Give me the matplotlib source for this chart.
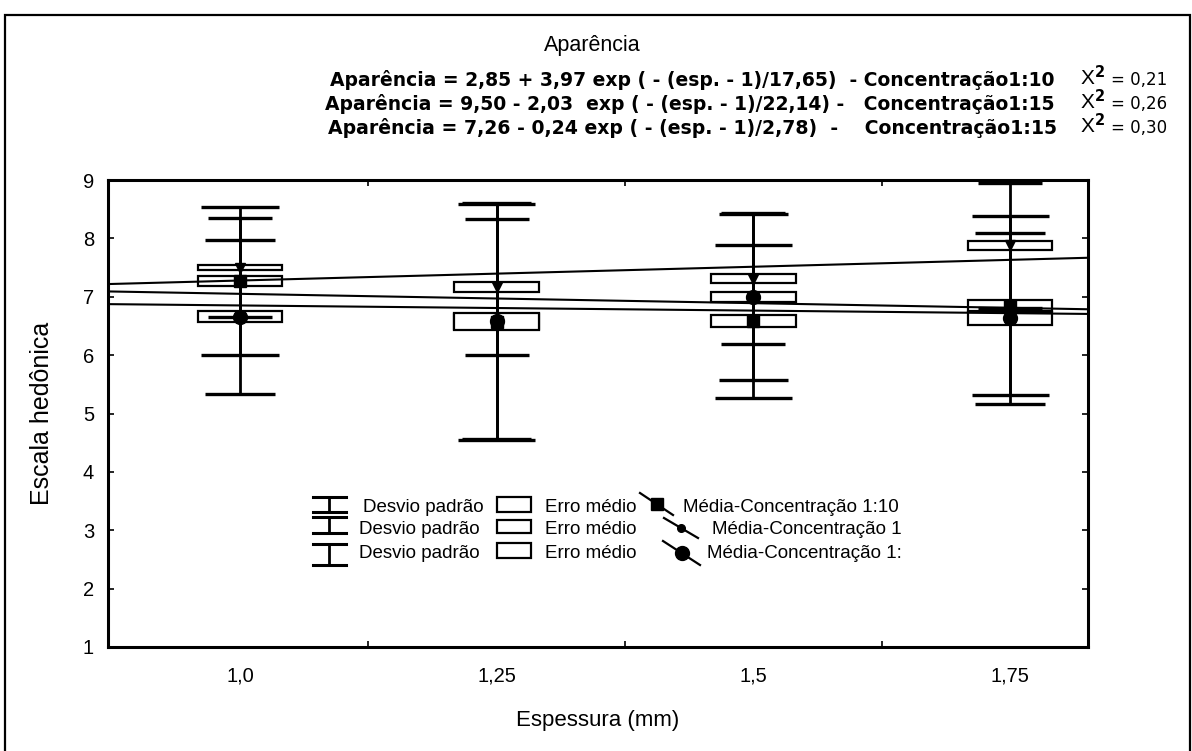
import numpy as np
import matplotlib
matplotlib.use("Agg")
import matplotlib.pyplot as plt
from matplotlib.patches import Rectangle
from matplotlib.lines import Line2D

# ---- data -------------------------------------------------------------
categories = ["1,0", "1,25", "1,5", "1,75"]

# Concentração 1:10
mean_c10 = [7.27, 6.57, 6.58, 6.85]
sd_c10 = [1.27, 2.02, 1.31, 1.53]
se_c10 = [0.09, 0.13, 0.105, 0.10]
fit_c10 = [7.05, 6.97, 6.89, 6.81]

# Concentração 1:15 (first group)
mean_c15a = [7.50, 7.17, 7.31, 7.88]
sd_c15a = [0.85, 1.17, 1.12, 1.07]
se_c15a = [0.045, 0.085, 0.075, 0.08]
fit_c15a = [7.28, 7.39, 7.52, 7.63]

# Concentração 1:15 (second group)
mean_c15b = [6.66, 6.58, 7.00, 6.63]
sd_c15b = [1.32, 2.02, 1.42, 1.46]
se_c15b = [0.095, 0.145, 0.085, 0.115]
fit_c15b = [6.85, 6.81, 6.76, 6.72]

equations = [
    "Aparência = 2,85 + 3,97 exp ( - (esp. - 1)/17,65)  - Concentração1:10",
    "Aparência = 9,50 - 2,03  exp ( - (esp. - 1)/22,14) -   Concentração1:15",
    "Aparência = 7,26 - 0,24 exp ( - (esp. - 1)/2,78)  -    Concentração1:15",
]
chi2 = ["0,21", "0,26", "0,30"]

# ---- figure -----------------------------------------------------------
W, H = 1192, 751
fig = plt.figure(figsize=(W / 100, H / 100), dpi=100)
plt.rcParams["font.family"] = ["Liberation Sans", "DejaVu Sans"]
renderer = fig.canvas.get_renderer()


def fx(x):
    return x / W


def fy(y):
    return 1 - y / H


def fitted_text(x0, x1, y, s, **kw):
    """Left-aligned text whose font size is scaled to span x0..x1 pixels."""
    t = fig.text(fx(x0), fy(y), s, ha="left", va="center", **kw)
    w = t.get_window_extent(renderer).width
    t.set_fontsize(t.get_fontsize() * (x1 - x0) / w)
    return t


L, R, T, B = 108, 1088, 180, 647
STEP = 256.7          # pixels between neighbouring categories
X0 = 240              # pixel position of the first category
ax = fig.add_axes([fx(L), fy(B), (R - L) / W, (B - T) / H])
ax.set_xlim((L - X0) / STEP, (R - X0) / STEP)
ax.set_ylim(1, 9)

pos = np.arange(len(categories))

series = [
    dict(mean=mean_c10, sd=sd_c10, se=se_c10, fit=fit_c10, marker="s", ms=8.5, cap=0.15),
    dict(mean=mean_c15a, sd=sd_c15a, se=se_c15a, fit=fit_c15a, marker="v", ms=7, cap=0.125),
    dict(mean=mean_c15b, sd=sd_c15b, se=se_c15b, fit=fit_c15b, marker="o", ms=10, cap=0.135),
]

box_w = 0.33
LW = 2.0

# standard-error boxes
for s in series:
    for p, m, e in zip(pos, s["mean"], s["se"]):
        ax.add_patch(Rectangle((p - box_w / 2, m - e), box_w, 2 * e,
                               facecolor="white", edgecolor="black", lw=1.6, zorder=2))

# fitted curves across the whole axis
xx = np.linspace(*ax.get_xlim(), 50)
for s in series:
    k = np.polyfit(pos, s["fit"], 1)
    ax.plot(xx, np.polyval(k, xx), color="black", lw=1.5, zorder=3)

# standard-deviation whiskers and means
for s in series:
    m = np.array(s["mean"])
    sd = np.array(s["sd"])
    ax.vlines(pos, m - sd, m + sd, color="black", lw=LW, zorder=4)
    ax.hlines(m + sd, pos - s["cap"], pos + s["cap"], color="black", lw=LW + 0.4, zorder=4)
    ax.hlines(m - sd, pos - s["cap"], pos + s["cap"], color="black", lw=LW + 0.4, zorder=4)
    ax.plot(pos, m, linestyle="none", marker=s["marker"], ms=s["ms"],
            color="black", zorder=5)

# axes styling
for sp in ax.spines.values():
    sp.set_linewidth(2.2)
ax.set_xticks(pos)
ax.set_xticklabels(categories, fontsize=14.5)
ax.set_xticks([0.5, 1.5, 2.5], minor=True)
ax.tick_params(axis="x", which="major", length=0, pad=14)
ax.tick_params(axis="x", which="minor", direction="in", length=4, width=1.2,
               top=True, bottom=True)
ax.set_yticks(range(1, 10))
ax.tick_params(axis="y", which="major", direction="in", length=4, width=1.2,
               left=True, right=True, labelsize=14.5, pad=10)

ax.set_xlabel("Espessura (mm)", fontsize=16, labelpad=18)
ax.set_ylabel("Escala hedônica", fontsize=18, labelpad=21)

# ---- title and fitted equations ---------------------------------------
fig.text(fx(592), fy(45), "Aparência", fontsize=15.5, ha="center", va="center")
eq_x0 = [330, 325, 328]
for i, (eq, c) in enumerate(zip(equations, chi2)):
    yy = 80 + 24 * i
    fitted_text(eq_x0[i], 1055, yy, eq, fontsize=12, family="DejaVu Sans",
                fontweight="bold")
    fig.text(fx(1080), fy(yy - 3), r"$\mathregular{X^{\mathbf{2}}}$", fontsize=15,
             ha="left", va="center")
    fig.text(fx(1111), fy(yy), "= " + c, fontsize=12, ha="left", va="center",
             family="DejaVu Sans")

# ---- legend -----------------------------------------------------------
tf = fig.transFigure
rows = [508, 530, 553]
whisk = [(497, 512), (517, 533), (544, 565)]
boxes = [(497, 512), (520, 533), (543, 558)]
leg_marker = [("s", 9), ("o", 5.5), ("o", 10)]
leg_lines = [((640, 493), (673, 515)), ((664, 518), (698, 538)), ((663, 541), (700, 565))]
leg_text = ["Média-Concentração 1:10", "Média-Concentração 1", "Média-Concentração 1:"]
leg_text_x = [683, 712, 707]
LEG_FS = 13.5

for i in range(3):
    y0, y1 = whisk[i]
    fig.add_artist(Line2D([fx(329), fx(329)], [fy(y0), fy(y1)], color="black", lw=2, transform=tf))
    for yc in (y0, y1):
        fig.add_artist(Line2D([fx(313), fx(346)], [fy(yc), fy(yc)], color="black", lw=2.2, transform=tf))
    fig.text(fx(363 if i == 0 else 359), fy(rows[i]), "Desvio padrão", fontsize=LEG_FS,
             ha="left", va="center")

    b0, b1 = boxes[i]
    fig.add_artist(Rectangle((fx(497), fy(b1)), fx(34), (b1 - b0) / H, facecolor="white",
                             edgecolor="black", lw=1.6, transform=tf))
    fig.text(fx(545), fy(rows[i]), "Erro médio", fontsize=LEG_FS, ha="left", va="center")

    (xa, ya), (xb, yb) = leg_lines[i]
    fig.add_artist(Line2D([fx(xa), fx(xb)], [fy(ya), fy(yb)], color="black", lw=1.6, transform=tf))
    mk, ms = leg_marker[i]
    fig.add_artist(Line2D([fx((xa + xb) / 2)], [fy((ya + yb) / 2)], marker=mk, ms=ms,
                          color="black", linestyle="none", transform=tf))
    fig.text(fx(leg_text_x[i]), fy(rows[i]), leg_text[i], fontsize=LEG_FS,
             ha="left", va="center")

# outer frame
fig.add_artist(Rectangle((fx(5), fy(760)), fx(1185), (760 - 15) / H, fill=False,
                         edgecolor="black", lw=1.6, transform=tf))

fig.savefig("out.png", dpi=100)
